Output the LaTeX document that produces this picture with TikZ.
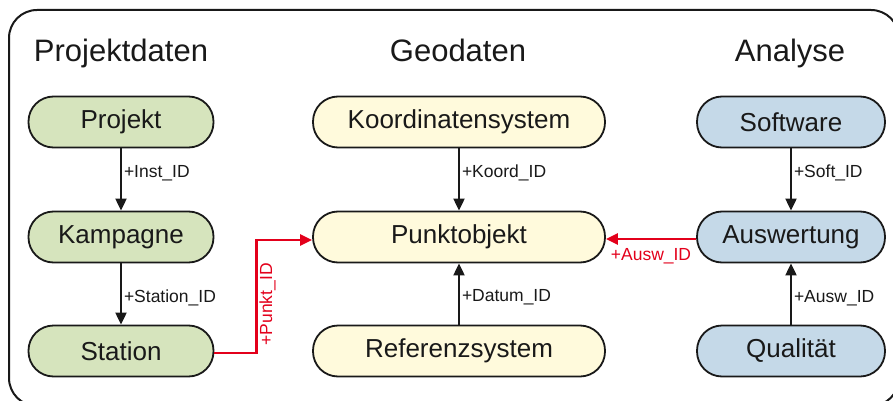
\documentclass[tikz,border=0pt]{standalone}
\usepackage{fontspec}
\setmainfont{Liberation Sans}
\usetikzlibrary{arrows.meta}
\definecolor{cgreen}{RGB}{214,228,189}
\definecolor{cyellow}{RGB}{255,250,220}
\definecolor{cblue}{RGB}{197,217,232}
\definecolor{cred}{RGB}{227,0,27}
\tikzset{
  box/.style={draw=black!90, line width=1.8pt, rounded corners=25pt, minimum height=51pt, inner sep=0pt,
    font=\fontsize{26}{30}\selectfont, text=black!90},
  gbox/.style={box, fill=cgreen, minimum width=185pt},
  ybox/.style={box, fill=cyellow, minimum width=292pt},
  bbox/.style={box, fill=cblue, minimum width=188pt},
  title/.style={font=\fontsize{31}{36}\selectfont, anchor=base, text=black!90},
  conn/.style={line width=2pt, draw=black!90, -{Triangle[length=12pt,width=11pt]}},
  rconn/.style={line width=2.3pt, draw=cred, -{Triangle[length=12pt,width=11pt]}},
  lab/.style={font=\fontsize{17.5}{20}\selectfont, text=black!90, anchor=west, inner sep=2pt},
  rlab/.style={font=\fontsize{17.5}{20}\selectfont, text=cred, inner sep=2pt},
}
\begin{document}
\begin{tikzpicture}[x=1pt,y=-1pt]
\useasboundingbox (0,0) rectangle (893,401);
\clip (0,0) rectangle (893,401);
\draw[line width=2pt, black!90, rounded corners=28pt] (9,10) rectangle (899,406);

\node[title] (t1) at (121,62) {Projektdaten};
\node[title] (t2) at (458,62) {Geodaten};
\node[title] (t3) at (790,62) {Analyse};

\node[gbox] (pj) at (121,122) {Projekt};
\node[gbox] (ka) at (121,237) {Kampagne};
\node[gbox] (st) at (121,351) {Station};

\node[ybox] (ko) at (459,122) {Koordinatensystem};
\node[ybox] (po) at (459,237) {Punktobjekt};
\node[ybox] (rs) at (459,351) {Referenzsystem};

\node[bbox] (sw) at (791,122) {Software};
\node[bbox] (au) at (791,237) {Auswertung};
\node[bbox] (qu) at (791,351) {Qualität};

\coordinate (poin) at ([yshift=-3pt]po.west);
\coordinate (poer) at ([yshift=-2pt]po.east);
\coordinate (auout) at ([yshift=-2pt]au.west);
\coordinate (stout) at ([yshift=-2pt]st.east);

\draw[conn] (pj) -- node[lab, pos=0.4] {+Inst\_ID} (ka);
\draw[conn] (ka) -- node[lab, pos=0.56] {+Station\_ID} (st);
\draw[conn] (ko) -- node[lab, pos=0.4] {+Koord\_ID} (po);
\draw[conn] (rs) -- node[lab, pos=0.44] {+Datum\_ID} (po);
\draw[conn] (sw) -- node[lab, pos=0.4] {+Soft\_ID} (au);
\draw[conn] (qu) -- node[lab, pos=0.43] {+Ausw\_ID} (au);

\draw[rconn] (auout) -- node[rlab, anchor=north, pos=0.5, yshift=-6pt] {+Ausw\_ID} (poer);
\draw[rconn] (stout) -- ++(42,0) coordinate (c1) -- (c1 |- poin)
  node[rlab, rotate=90, anchor=north, pos=0.43] {+Punkt\_ID} -- (poin);
\end{tikzpicture}
\end{document}
